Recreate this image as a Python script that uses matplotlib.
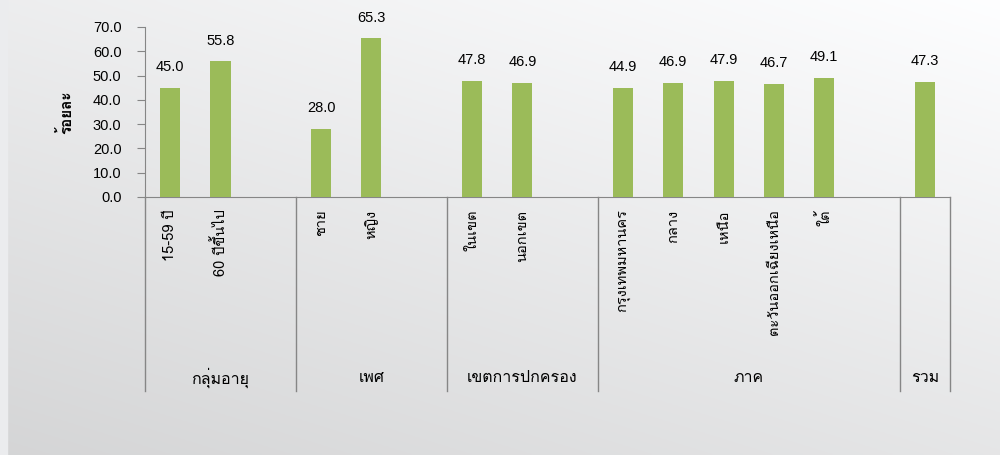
import numpy as np
import matplotlib
matplotlib.use('Agg')
import matplotlib.pyplot as plt
import matplotlib.transforms as mtransforms
from matplotlib import font_manager
from matplotlib.ft2font import FT2Font

# data (blank slots give the gaps between groups)
labels = ['15-59 ปี', '60 ปีขึ้นไป', '',
          'ชาย', 'หญิง', '',
          'ในเขต', 'นอกเขต', '',
          'กรุงเทพมหานคร', 'กลาง', 'เหนือ', 'ตะวันออกเฉียงเหนือ', 'ใต้', '',
          '']
values = [45.0, 55.8, np.nan,
          28.0, 65.3, np.nan,
          47.8, 46.9, np.nan,
          44.9, 46.9, 47.9, 46.7, 49.1, np.nan,
          47.3]
groups = ['กลุ่มอายุ', 'เพศ', 'เขตการปกครอง', 'ภาค', 'รวม']
group_bounds = [0, 3, 6, 9, 15, 16]

# find a font that has thai glyphs
thai = None
for f in font_manager.fontManager.ttflist:
    try:
        if 0x0E01 in FT2Font(f.fname).get_charmap():
            thai = f.name
            break
    except Exception:
        pass
print('thai font:', thai)
plt.rcParams['font.family'] = ([thai] if thai else []) + ['DejaVu Sans']
num_font = ['Liberation Sans', 'DejaVu Sans']

fig = plt.figure(figsize=(10, 4.55), dpi=100)

# background gradient
bg = fig.add_axes([0, 0, 1, 1], zorder=-10)
yy, xx = np.mgrid[0:1:200j, 0:1:400j]
shade = 1 - 0.095 * yy - 0.065 * (1 - xx)
bg.imshow(np.dstack([shade - 0.006, shade - 0.004, shade]).clip(0, 1),
          extent=[0, 1, 0, 1], aspect='auto', origin='upper')
bg.add_patch(plt.Rectangle((0, 0), 0.007, 1, color='#ebecee'))
bg.set_xlim(0, 1)
bg.set_ylim(0, 1)
bg.axis('off')

ax = fig.add_axes([0.145, 1 - 197 / 455, 0.805, 170 / 455])
ax.patch.set_alpha(0)
x = np.arange(len(values))
ax.bar(x, values, width=0.4, color='#9bbb59', zorder=3)
for xi, v in zip(x, values):
    if np.isnan(v):
        continue
    ax.annotate(f'{v:.1f}', (xi, v), xytext=(0, 10), textcoords='offset points',
                ha='center', va='bottom', fontsize=10.5, family=num_font)

ax.set_xlim(-0.5, len(values) - 0.5)
ax.set_ylim(0, 70)
ticks = np.arange(0, 71, 10)
ax.set_yticks(ticks)
ax.set_yticklabels([f'{t:.1f}' for t in ticks], family=num_font, fontsize=10.5)
ax.tick_params(axis='y', length=6, color='#868686', pad=11)
ax.set_xticks(x)
ax.set_xticklabels(labels, rotation=90, fontsize=10.5, va='top')
ax.tick_params(axis='x', length=0, pad=9)
for s in ['top', 'right']:
    ax.spines[s].set_visible(False)
for s in ['left', 'bottom']:
    ax.spines[s].set_color('#868686')
ax.set_ylabel('ร้อยละ', fontsize=11, fontweight='bold', labelpad=13)

# group separators and names
trans = mtransforms.blended_transform_factory(ax.transData, fig.transFigure)
y0, y1 = 1 - 197 / 455, 1 - 391 / 455
for b in group_bounds:
    ax.plot([b - 0.5, b - 0.5], [y0, y1], transform=trans, color='#868686',
            lw=1, clip_on=False)
for g, a, b in zip(groups, group_bounds[:-1], group_bounds[1:]):
    ax.text((a + b - 1) / 2, 1 - 378 / 455, g, transform=trans, ha='center',
            va='center', fontsize=11.5)

fig.savefig('out.png', dpi=100)
